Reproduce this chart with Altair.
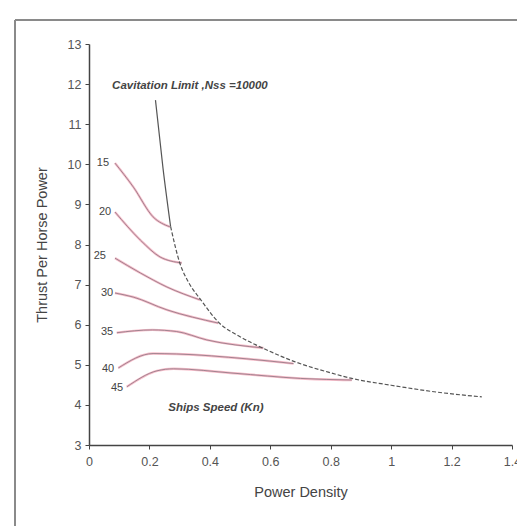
import altair as alt
import pandas as pd

# Cavitation limit curve (Nss = 10000)
cav_x = [0.22, 0.245, 0.27, 0.30, 0.33, 0.37, 0.43, 0.50, 0.58, 0.68, 0.80, 0.87, 1.00, 1.15, 1.30]
cav_y = [11.6, 9.9, 8.45, 7.55, 7.05, 6.62, 6.05, 5.70, 5.40, 5.08, 4.80, 4.66, 4.49, 4.32, 4.2]

# Ship speed curves (knots)
speeds = ["15", "20", "25", "30", "35", "40", "45"]
sp_x = [
    [0.086, 0.147, 0.212, 0.268],
    [0.086, 0.17, 0.235, 0.307],
    [0.086, 0.17, 0.258, 0.367],
    [0.086, 0.146, 0.258, 0.428],
    [0.092, 0.21, 0.29, 0.39, 0.577],
    [0.097, 0.212, 0.29, 0.52, 0.677],
    [0.125, 0.225, 0.28, 0.48, 0.70, 0.87],
]
sp_y = [
    [10.03, 9.43, 8.69, 8.44],
    [8.81, 8.11, 7.69, 7.54],
    [7.66, 7.29, 6.94, 6.62],
    [6.79, 6.69, 6.37, 6.04],
    [5.8, 5.87, 5.83, 5.62, 5.42],
    [4.92, 5.28, 5.27, 5.15, 5.03],
    [4.45, 4.85, 4.9, 4.79, 4.66, 4.62],
]

# speed label positions
lab_x = [0.046, 0.053, 0.036, 0.06, 0.06, 0.063, 0.093]
lab_y = [10.03, 8.81, 7.71, 6.79, 5.82, 4.9, 4.42]

# annotations
note_text = ["Cavitation Limit ,Nss =10000", "Ships Speed (Kn)"]
note_x = [0.334, 0.42]
note_y = [11.95, 3.92]

cav_df = pd.DataFrame({"x": cav_x, "y": cav_y, "o": list(range(len(cav_x)))})
rows = []
for s, xs, ys in zip(speeds, sp_x, sp_y):
    for i, (a, b) in enumerate(zip(xs, ys)):
        rows.append({"speed": s, "x": a, "y": b, "o": i})
sp_df = pd.DataFrame(rows)
lab_df = pd.DataFrame({"t": speeds, "x": lab_x, "y": lab_y})
note_df = pd.DataFrame({"t": note_text, "x": note_x, "y": note_y})

X = alt.X("x:Q", scale=alt.Scale(domain=[0, 1.4], nice=False, zero=False),
          axis=alt.Axis(values=[0, 0.2, 0.4, 0.6, 0.8, 1, 1.2, 1.4], title="Power Density",
                        grid=False, labelFlush=False, labelExpr="datum.value == 0 ? '0' : format(datum.value, '.1~f')"))
Y = alt.Y("y:Q", scale=alt.Scale(domain=[3, 13], nice=False, zero=False),
          axis=alt.Axis(values=list(range(3, 14)), title="Thrust Per Horse Power", grid=False))

halo = alt.Chart(sp_df).mark_line(color="#f4b0c0", strokeWidth=2.4, opacity=0.85, interpolate="monotone").encode(
    x=X, y=Y, detail="speed:N", order="o:Q")
core = alt.Chart(sp_df).mark_line(color="#8c7480", strokeWidth=0.8, interpolate="monotone").encode(
    x="x:Q", y="y:Q", detail="speed:N", order="o:Q")

cav_solid = alt.Chart(cav_df[cav_df.o <= 2]).mark_line(color="#555555", strokeWidth=1.2, interpolate="monotone").encode(
    x="x:Q", y="y:Q", order="o:Q")
cav_dash = alt.Chart(cav_df[cav_df.o >= 2]).mark_line(color="#555555", strokeWidth=1.2, strokeDash=[4, 2],
                                                      interpolate="monotone").encode(
    x="x:Q", y="y:Q", order="o:Q")

labels = alt.Chart(lab_df).mark_text(fontSize=11, color="#444444", font="Liberation Sans", align="center", baseline="middle").encode(
    x="x:Q", y="y:Q", text="t:N")
notes = alt.Chart(note_df).mark_text(fontSize=11.5, fontStyle="italic", fontWeight="bold", color="#444444",
                                     font="Liberation Sans", align="center", baseline="middle").encode(
    x="x:Q", y="y:Q", text="t:N")

frame_top = alt.Chart(lab_df).mark_rule(color="#8a8a8a", strokeWidth=2).encode(
    x=alt.value(-74), x2=alt.value(440), y=alt.value(-24))
frame_left = alt.Chart(lab_df).mark_rule(color="#8a8a8a", strokeWidth=2).encode(
    x=alt.value(-74), y=alt.value(-24), y2=alt.value(500))

chart = alt.layer(halo, core, cav_solid, cav_dash, labels, notes, frame_top, frame_left).properties(
    width=423, height=401,
    padding={"left": 89, "top": 44, "right": 5, "bottom": 81},
    autosize=alt.AutoSizeParams(type="none"),
).configure_view(stroke=None).configure_axis(
    domainColor="#444444", tickColor="#444444", labelColor="#555555", titleColor="#444444",
    labelFont="Liberation Sans", titleFont="Liberation Sans", labelFontSize=12.5, titleFontSize=14.5,
    titleFontWeight="normal", tickSize=4, domainWidth=1.5,
).configure_axisY(titlePadding=18, labelPadding=4).configure_axisX(titlePadding=18, labelPadding=6)

chart.save("out.html", embed_options={"renderer": "svg", "actions": False})
